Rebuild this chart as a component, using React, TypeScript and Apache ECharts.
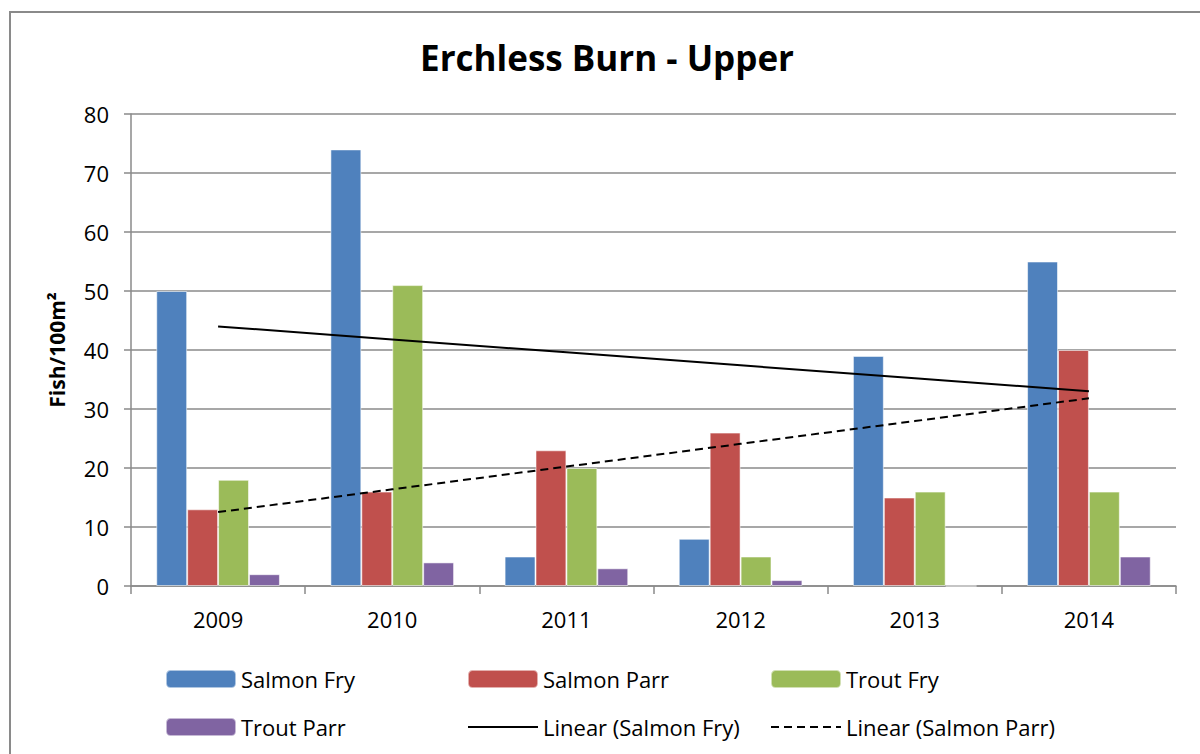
import React, { useEffect, useRef } from "react";
import * as echarts from "echarts";

const years = ["2009", "2010", "2011", "2012", "2013", "2014"];
const salmonFry = [50, 74, 5, 8, 39, 55];
const salmonParr = [13, 16, 23, 26, 15, 40];
const troutFry = [18, 51, 20, 5, 16, 16];
const troutParr = [2, 4, 3, 1, 0, 5];

const yTicks = { min: 0, max: 80, interval: 10 };

function linearTrend(vals: number[]): number[] {
  const n = vals.length;
  const xs = vals.map((_, i) => i + 1);
  const mx = xs.reduce((a, b) => a + b, 0) / n;
  const my = vals.reduce((a, b) => a + b, 0) / n;
  let num = 0;
  let den = 0;
  for (let i = 0; i < n; i++) {
    num += (xs[i] - mx) * (vals[i] - my);
    den += (xs[i] - mx) * (xs[i] - mx);
  }
  const slope = num / den;
  const icpt = my - slope * mx;
  return xs.map((x) => +(icpt + slope * x).toFixed(3));
}

const FONT = "'Open Sans', 'Noto Sans', sans-serif";
const GREY = "#8a8a8a";

export default function App() {
  const ref = useRef<HTMLDivElement>(null);
  useEffect(() => {
    if (!ref.current) return;
    const chart = echarts.init(ref.current, null, { renderer: "svg" });
    const legendText = { fontFamily: FONT, fontSize: 22, color: "#000" };
    const mkLegend = (name: string, left: number, top: number, isLine = false) => ({
      show: true,
      left,
      top,
      orient: "horizontal",
      itemWidth: 70,
      itemHeight: 18,
      itemGap: 0,
      padding: 0,
      textStyle: legendText,
      ...(isLine ? { itemStyle: { opacity: 0, color: "transparent", borderWidth: 0 } } : {}),
      data: [name],
    });
    const barStyle = (color: string) => ({
      color,
      borderColor: "rgba(255,255,255,0.55)",
      borderWidth: 1,
    });
    chart.setOption({
      animation: false,
      backgroundColor: "#fff",
      graphic: [
        {
          type: "rect",
          shape: { x: 10, y: 12, width: 1300, height: 900 },
          style: { fill: "none", stroke: GREY, lineWidth: 2 },
          z: -1,
        },
        {
          type: "text",
          x: 607,
          y: 57,
          style: {
            text: "Erchless Burn - Upper",
            fontFamily: FONT,
            fontWeight: "bold",
            fontSize: 35,
            fill: "#000",
            align: "center",
            verticalAlign: "middle",
          },
        },
      ],
      legend: [
        mkLegend("Salmon Fry", 165, 668),
        mkLegend("Salmon Parr", 467, 668),
        mkLegend("Trout Fry", 770, 668),
        mkLegend("Trout Parr", 165, 716),
        mkLegend("Linear (Salmon Fry)", 467, 716, true),
        mkLegend("Linear (Salmon Parr)", 770, 716, true),
      ],
      grid: { left: 131, right: 24, top: 114, bottom: 168, containLabel: false },
      xAxis: {
        type: "category",
        data: years,
        boundaryGap: true,
        axisLine: { lineStyle: { color: GREY, width: 1.5 } },
        axisTick: { show: true, length: 8, lineStyle: { color: GREY, width: 1.5 } },
        axisLabel: { fontFamily: FONT, fontSize: 22, color: "#000", margin: 22 },
        splitLine: { show: false },
      },
      yAxis: {
        type: "value",
        min: yTicks.min,
        max: yTicks.max,
        interval: yTicks.interval,
        name: "Fish/100m²",
        nameLocation: "middle",
        nameGap: 64,
        nameTextStyle: { fontFamily: FONT, fontSize: 21, fontWeight: "bold", color: "#000" },
        axisLine: { show: true, lineStyle: { color: GREY, width: 1.5 } },
        axisTick: { show: true, length: 7, lineStyle: { color: GREY, width: 1.5 } },
        axisLabel: { fontFamily: FONT, fontSize: 22, color: "#000", margin: 22 },
        splitLine: { show: true, lineStyle: { color: GREY, width: 1.5 } },
      },
      series: [
        { name: "Salmon Fry", type: "bar", data: salmonFry, barGap: "0%", barCategoryGap: "29%", itemStyle: barStyle("#4F81BD") },
        { name: "Salmon Parr", type: "bar", data: salmonParr, itemStyle: barStyle("#C0504D") },
        { name: "Trout Fry", type: "bar", data: troutFry, itemStyle: barStyle("#9BBB59") },
        { name: "Trout Parr", type: "bar", data: troutParr, itemStyle: barStyle("#8064A2") },
        {
          name: "Linear (Salmon Fry)",
          type: "line",
          data: linearTrend(salmonFry),
          symbol: "none",
          itemStyle: { color: "#000" },
          lineStyle: { color: "#000", width: 2 },
          z: 5,
        },
        {
          name: "Linear (Salmon Parr)",
          type: "line",
          data: linearTrend(salmonParr),
          symbol: "none",
          itemStyle: { color: "#000" },
          lineStyle: { color: "#000", width: 2, type: [8, 5] },
          z: 5,
        },
      ],
    });
    return () => chart.dispose();
  }, []);
  return (
    <div
      ref={ref}
      style={{ position: "fixed", left: 0, top: 0, width: 1200, height: 754, background: "#fff" }}
    />
  );
}
